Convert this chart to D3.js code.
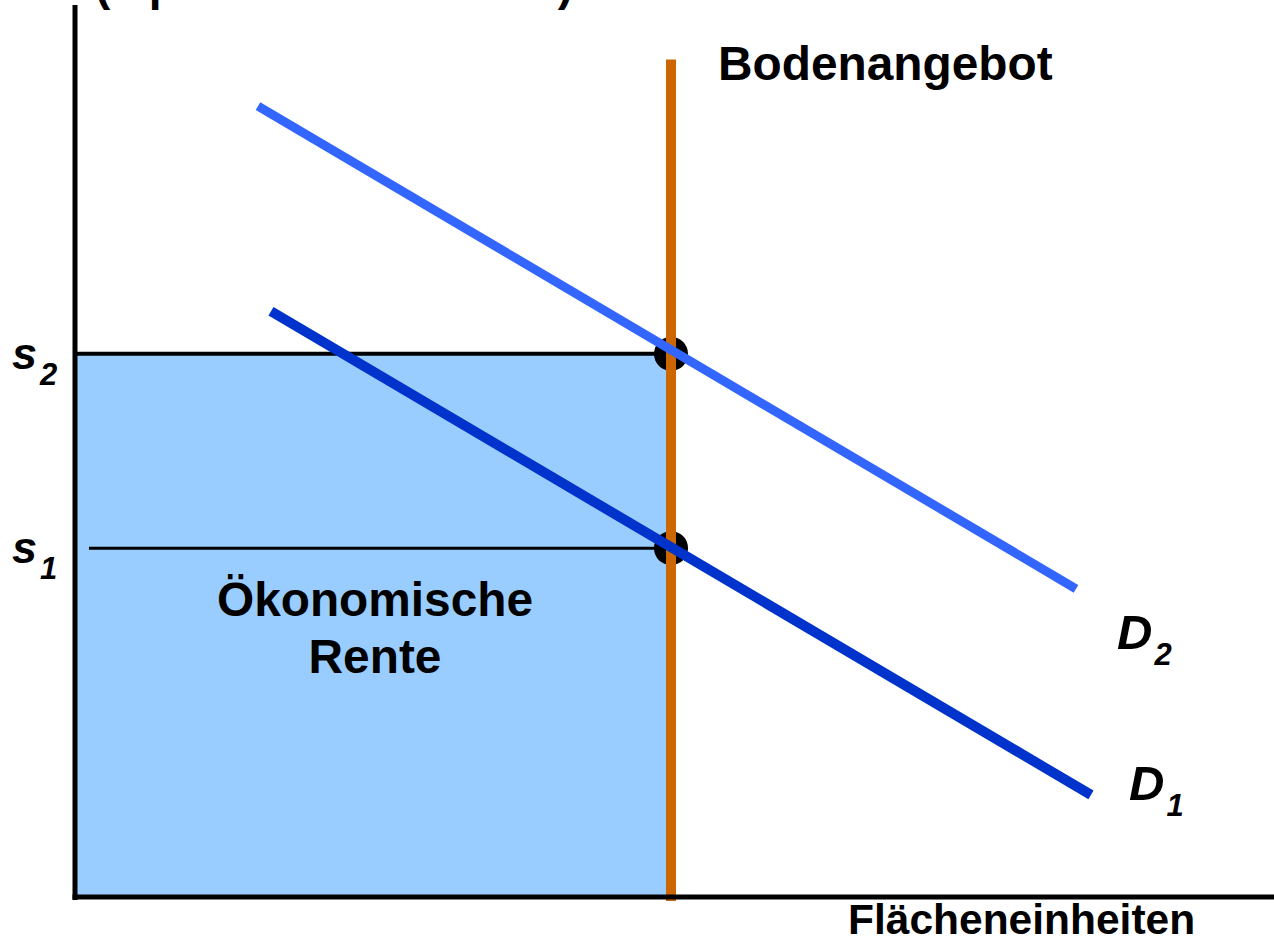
<!DOCTYPE html>
<html>
<head>
<meta charset="utf-8">
<script src="https://cdn.jsdelivr.net/npm/d3@7"></script>
<style>
  html, body { margin: 0; padding: 0; background: #fff; }
  svg { display: block; }
  text { font-family: "Liberation Sans", Arial, sans-serif; font-weight: bold; fill: #000; }
</style>
</head>
<body>
<svg id="chart" width="1274" height="940"></svg>
<script>
// ---- data (quantity units, price units) ----
const priceLevels = [3.52, 5.48];          // s1, s2
const priceLabels = ["1", "2"];            // subscripts for s
const supplyQ = 5.96;                      // fixed land supply
const supplyRange = [-0.04, 8.45];         // vertical extent of supply line
const demand1 = [[1.96, 5.91], [10.16, 1.03]];
const demand2 = [[1.83, 7.98], [10.01, 3.11]];
const demandNames = ["1", "2"];
const yAxisTitle = "(€ pro Flächeneinheit)";
const xAxisTitle = "Flächeneinheiten";
const supplyTitle = "Bodenangebot";
const rentLines = ["Ökonomische", "Rente"];

// ---- scales ----
const svg = d3.select("#chart");
const x = d3.scaleLinear().domain([0, 12]).range([75, 1275]);
const y = d3.scaleLinear().domain([0, 9]).range([897, 5]);

// rent area
svg.append("rect")
  .attr("x", x(0)).attr("y", y(priceLevels[1]))
  .attr("width", x(supplyQ) - x(0)).attr("height", y(0) - y(priceLevels[1]))
  .attr("fill", "#99CCFF");

// price level lines
svg.append("line")
  .attr("x1", x(0)).attr("x2", x(supplyQ))
  .attr("y1", y(priceLevels[1])).attr("y2", y(priceLevels[1]))
  .attr("stroke", "#000").attr("stroke-width", 4);
svg.append("line")
  .attr("x1", x(0.14)).attr("x2", x(supplyQ))
  .attr("y1", y(priceLevels[0])).attr("y2", y(priceLevels[0]))
  .attr("stroke", "#000").attr("stroke-width", 3);

// equilibrium dots
svg.selectAll("circle.eq").data(priceLevels).enter().append("circle")
  .attr("class", "eq")
  .attr("cx", x(supplyQ)).attr("cy", d => y(d)).attr("r", 17)
  .attr("fill", "#000");

// supply line
svg.append("line")
  .attr("x1", x(supplyQ)).attr("x2", x(supplyQ))
  .attr("y1", y(supplyRange[0])).attr("y2", y(supplyRange[1]))
  .attr("stroke", "#CC6600").attr("stroke-width", 10);

// demand lines
const line = d3.line().x(d => x(d[0])).y(d => y(d[1]));
svg.append("path").attr("d", line(demand2))
  .attr("stroke", "#3366FF").attr("stroke-width", 9).attr("fill", "none");
svg.append("path").attr("d", line(demand1))
  .attr("stroke", "#0033CC").attr("stroke-width", 10).attr("fill", "none");

// axes
const yAxis = d3.axisLeft(y).tickValues([]).tickSizeOuter(0);
const xAxis = d3.axisBottom(x).tickValues([]).tickSizeOuter(0);
const gy = svg.append("g").attr("transform", `translate(${x(0)},0)`).call(yAxis);
gy.select(".domain").attr("stroke", "#000").attr("stroke-width", 5)
  .attr("d", `M0,${y(9)}V${y(0) + 3}`);
const gx = svg.append("g").attr("transform", `translate(0,${y(0)})`).call(xAxis);
gx.select(".domain").attr("stroke", "#000").attr("stroke-width", 5)
  .attr("d", `M${x(0) - 2.5},0H1274`);

// y-axis title (cut off at top, as in the original)
svg.append("text").attr("x", 95).attr("y", 0)
  .attr("font-size", 46).text(yAxisTitle);

// x-axis title
svg.append("text").attr("x", 848).attr("y", 934)
  .attr("font-size", 42.5).text(xAxisTitle);

// supply title
svg.append("text").attr("x", 718).attr("y", 80)
  .attr("font-size", 47.8).text(supplyTitle);

// rent label
svg.append("text").attr("text-anchor", "middle")
  .attr("font-size", 47.8)
  .selectAll("tspan").data(rentLines).enter().append("tspan")
  .attr("x", 375).attr("y", (d, i) => 616 + i * 57).text(d => d);

// price labels s1, s2
priceLevels.forEach((p, i) => {
  const t = svg.append("text").attr("x", 12).attr("y", y(p) + 15)
    .attr("font-style", "italic");
  t.append("tspan").attr("font-size", 45).text("s");
  t.append("tspan").attr("font-size", 31).attr("dx", 3).attr("dy", 16).text(priceLabels[i]);
});

// demand labels
[demand1, demand2].forEach((dd, i) => {
  const end = dd[1];
  const t = svg.append("text")
    .attr("x", x(end[0]) + (i === 0 ? 38 : 41))
    .attr("y", y(end[1]) + (i === 0 ? 5 : 60))
    .attr("font-style", "italic");
  t.append("tspan").attr("font-size", 49).text("D");
  t.append("tspan").attr("font-size", 31).attr("dx", 2).attr("dy", 16).text(demandNames[i]);
});
</script>
</body>
</html>
